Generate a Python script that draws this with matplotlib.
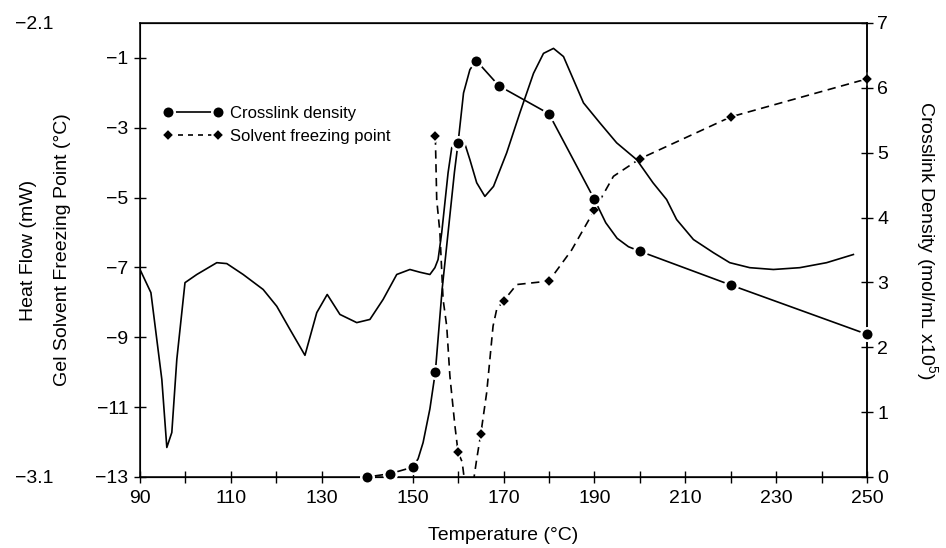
import matplotlib.pyplot as plt
from matplotlib.lines import Line2D

plt.rcParams['font.family'] = ['Liberation Sans', 'DejaVu Sans']
plt.rcParams['mathtext.default'] = 'regular'

# DSC heat flow trace (mW) vs temperature
hf_temp = [90, 92.4, 94.8, 95.9, 97.0, 98.1, 99.9, 102.5, 106.9, 109.1, 112.7, 117.1,
           120.1, 123.0, 126.3, 128.9, 131.2, 134.0, 137.7, 140.6, 143.5, 146.5, 149.4,
           151.6, 153.8, 154.9, 155.6, 156.4, 157.8, 158.6, 160.0, 161.2, 162.6, 164.1,
           165.9, 167.8, 170.7, 173.6, 176.6, 178.8, 181.0, 183.2, 185.4, 187.6, 191.2,
           194.9, 199.3, 202.9, 205.9, 208.1, 211.8, 216.2, 219.8, 224.2, 229.4, 235.2,
           241.1, 247.0]
hf_mw = [-2.643, -2.694, -2.885, -3.035, -3.002, -2.841, -2.672, -2.654, -2.628, -2.630,
         -2.654, -2.687, -2.724, -2.775, -2.832, -2.738, -2.698, -2.742, -2.760, -2.753,
         -2.709, -2.654, -2.643, -2.649, -2.654, -2.639, -2.621, -2.562, -2.430, -2.375,
         -2.360, -2.357, -2.401, -2.452, -2.482, -2.460, -2.386, -2.298, -2.211, -2.167,
         -2.156, -2.174, -2.225, -2.276, -2.320, -2.364, -2.401, -2.452, -2.489, -2.533,
         -2.577, -2.606, -2.628, -2.639, -2.643, -2.639, -2.628, -2.610]

# crosslink density measurements (mol/mL x10^5)
xl_temp = [140, 145, 150, 155, 160, 164, 169, 180, 190, 200, 220, 250]
xl_dens = [0.0, 0.05, 0.15, 1.62, 5.15, 6.42, 6.03, 5.60, 4.28, 3.48, 2.96, 2.2]
# crosslink curve as drawn through the points
xl_line_temp = [140, 145, 150, 151.2, 152.3, 153.8, 155, 156.5, 158, 159.2, 160, 161.2,
                162.6, 164, 169, 180, 190, 192.5, 195, 197.5, 200, 220, 250]
xl_line_dens = [0.0, 0.05, 0.15, 0.28, 0.53, 1.05, 1.62, 2.9, 3.9, 4.7, 5.15, 5.92,
                6.28, 6.42, 6.03, 5.60, 4.28, 3.92, 3.68, 3.55, 3.48, 2.96, 2.2]

# gel solvent freezing point (deg C)
fp_temp = [155, 160, 165, 170, 180, 190, 200, 220, 250]
fp_val = [-3.25, -12.29, -11.77, -7.96, -7.39, -5.36, -3.89, -2.69, -1.6]
fp_line_temp = [155, 155.3, 156, 156.7, 157.5, 158.2, 159.3, 160, 160.9, 161.6, 162.4,
                163.3, 164.1, 165, 166.3, 167, 167.7, 168.5, 170, 172.9, 180, 185, 190,
                194.2, 200, 220, 250]
fp_line_val = [-3.25, -5.06, -6.0, -7.91, -8.68, -10.11, -11.53, -12.29, -12.57, -13.3,
               -13.5, -13.2, -12.49, -11.77, -10.58, -9.63, -8.68, -8.2, -7.96, -7.49,
               -7.39, -6.5, -5.36, -4.39, -3.89, -2.69, -1.6]

fig = plt.figure(figsize=(9.46, 5.48), dpi=100)
ax = fig.add_axes([0.148, 0.1296, 0.7685, 0.8285])
ax_hf = ax.twinx()
ax_xl = ax.twinx()

# heat flow axis: labels only, far left
ax_hf.yaxis.set_ticks_position('left')
ax_hf.yaxis.set_label_position('left')
ax_hf.spines['left'].set_position(('outward', 58))
ax_hf.spines['left'].set_visible(False)
ax_hf.spines['right'].set_visible(False)
ax_hf.set_ylim(-3.1, -2.1)
ax_hf.set_yticks([-3.1, -2.1])
ax_hf.tick_params(axis='y', length=0, pad=4, labelsize=14)
ax_hf.set_ylabel('Heat Flow (mW)', fontsize=14)
ax_hf.yaxis.set_label_coords(-0.142, 0.5)
ax_hf.plot(hf_temp, hf_mw, color='black', lw=1.2)

# freezing point axis (inner left)
ax.set_xlim(90, 250)
ax.set_ylim(-13, 0)
ax.set_yticks([-1, -3, -5, -7, -9, -11, -13])
ax.set_xticks(range(90, 251, 20))
ax.set_xticks(range(100, 250, 20), minor=True)
ax.tick_params(axis='y', direction='inout', length=9, width=1, labelsize=14, pad=4)
ax.tick_params(axis='x', which='both', direction='inout', length=9, width=1,
               labelsize=14, pad=5)
ax.set_xlabel('Temperature (°C)', fontsize=14, labelpad=14)
ax.set_ylabel('Gel Solvent Freezing Point (°C)', fontsize=14)
ax.yaxis.set_label_coords(-0.095, 0.5)
for s in ax.spines.values():
    s.set_linewidth(1.1)

ax.plot(fp_line_temp, fp_line_val, color='black', lw=1.2, dashes=(5, 3.3))
ax.plot(fp_temp, fp_val, linestyle='', marker='D', ms=6.5, mfc='black', mec='white',
        mew=1.2, clip_on=False, zorder=3)

# crosslink density axis (right)
ax_xl.set_ylim(0, 7)
ax_xl.set_yticks(range(0, 8))
ax_xl.tick_params(axis='y', direction='inout', length=9, width=1, labelsize=14, pad=3)
ax_xl.spines['right'].set_linewidth(1.1)
ax_xl.set_ylabel(r'Crosslink Density (mol/mL x10$^5$)', fontsize=14, rotation=270,
                 va='center', ha='center', rotation_mode='anchor')
ax_xl.yaxis.set_label_coords(1.0825, 0.52)
ax_xl.plot(xl_line_temp, xl_line_dens, color='black', lw=1.2)
ax_xl.plot(xl_temp, xl_dens, linestyle='', marker='o', ms=9, mfc='black', mec='white',
           mew=1.8, clip_on=False, zorder=3)

handles = [
    Line2D([], [], color='black', lw=1.2, marker='o', ms=9, mfc='black', mec='white',
           mew=1.8),
    Line2D([], [], color='black', lw=1.2, dashes=(3, 3), marker='D', ms=6.5,
           mfc='black', mec='white', mew=1.2),
]
ax_xl.legend(handles, ['Crosslink density', 'Solvent freezing point'], loc='upper left',
             bbox_to_anchor=(0.02, 0.835), frameon=False, fontsize=12, numpoints=2,
             handlelength=3.6, handletextpad=0.45, labelspacing=0.45, borderpad=0)

fig.savefig('out.png', dpi=100)
